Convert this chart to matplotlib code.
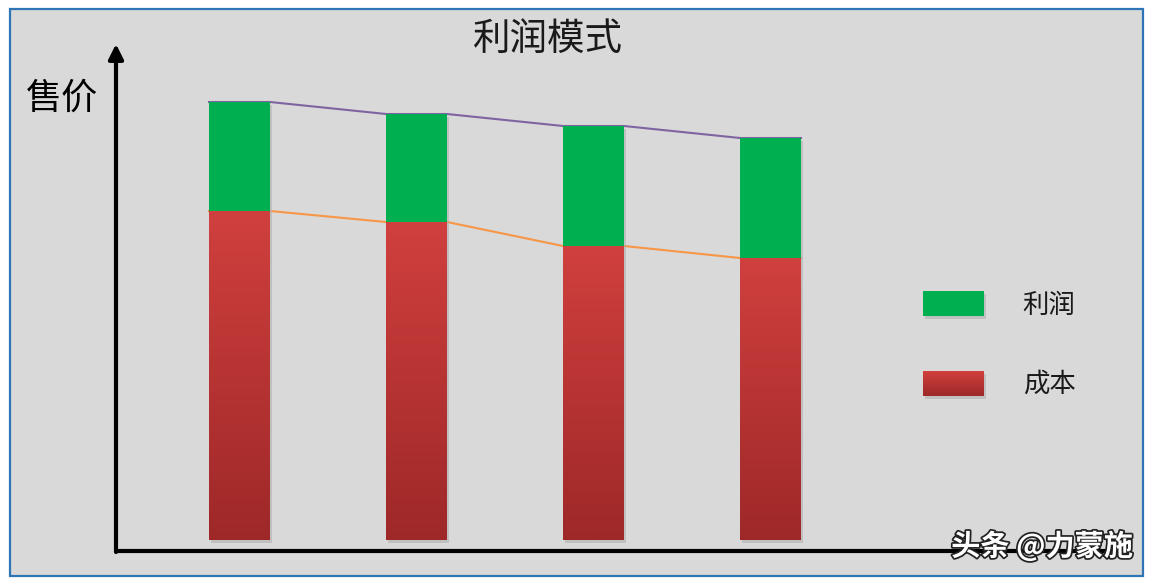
import numpy as np
import matplotlib.pyplot as plt
from matplotlib.patches import Rectangle, FancyArrowPatch
import matplotlib.patheffects as pe

plt.rcParams['font.family'] = ['Noto Sans CJK SC', 'DejaVu Sans']

# data (arbitrary units, baseline = 0)
periods = [0, 1, 2, 3]
cost = [329, 318, 294, 282]
profit = [109, 108, 120, 120]
title = '利润模式'
ylabel = '售价'
legend_labels = ['利润', '成本']
watermark = '头条 @力蒙施'

green = '#00b050'
red_top = np.array([208, 64, 62]) / 255
red_bot = np.array([158, 40, 40]) / 255
purple = '#8064a2'
orange = '#f79646'

W, H = 1151, 581
fig = plt.figure(figsize=(W / 100, H / 100), dpi=100)
fig.patch.set_facecolor('white')

# background panel with blue border
bg = fig.add_axes([0, 0, 1, 1])
bg.set_xlim(0, W)
bg.set_ylim(H, 0)
bg.axis('off')
bg.add_patch(Rectangle((10, 9), 1133, 567, facecolor='#d9d9d9',
                       edgecolor='#2e75b6', linewidth=1.6))

# data axes: bar centre spacing 177 px, bar centre of first at 239.5 px
ax = fig.add_axes([0, 0, 1, 1])
ax.patch.set_alpha(0)
ax.axis('off')
x0, dx = 239.5, 177.0
bw = 61 / dx

x = np.array(periods, dtype=float)
total = np.array(cost) + np.array(profit)

# connecting lines (behind bars)
xs = np.ravel(np.column_stack([x - bw / 2, x + bw / 2]))
ax.plot(xs, np.repeat(total, 2), color=purple, lw=1.5, zorder=1)
ax.plot(xs, np.repeat(cost, 2), color=orange, lw=1.5, zorder=1)

# shadows
ax.bar(x + 0.012, total, bottom=-3, width=bw, color='#b0b0b0', alpha=0.6, zorder=1.5)

grad = np.linspace(0, 1, 256)[:, None, None]
grad_img = red_top * (1 - grad) + red_bot * grad

ax.bar(x, profit, bottom=cost, width=bw, color=green, zorder=2)
for xi, c in zip(x, cost):
    ax.imshow(grad_img, extent=(xi - bw / 2, xi + bw / 2, 0, c),
              aspect='auto', origin='upper', zorder=2)
ax.set_xlim(-x0 / dx, (W - x0) / dx)
ax.set_ylim(-(H - 540), 540)

# axes arrows drawn in pixel space
bg.plot([116, 1125], [551, 551], color='black', lw=3, zorder=3,
        solid_capstyle='butt')
bg.add_patch(FancyArrowPatch((116, 552), (116, 44), arrowstyle='-|>',
                             mutation_scale=22, lw=3, color='black',
                             shrinkA=0, shrinkB=0, zorder=3))

# texts
bg.text(548, 39, title, fontsize=27, ha='center', va='center',
        fontweight='light', color='#1a1a1a')
bg.text(62, 99, ylabel, fontsize=26, ha='center', va='center', color='black')

# legend
bg.add_patch(Rectangle((925, 294), 61, 25, facecolor='#b0b0b0', alpha=0.6))
bg.add_patch(Rectangle((923, 291), 61, 25, facecolor=green))
bg.add_patch(Rectangle((925, 374), 61, 25, facecolor='#b0b0b0', alpha=0.6))
bg.imshow(grad_img, extent=(923, 984, 396, 371), aspect='auto',
          origin='upper', zorder=2)
bg.set_xlim(0, W)
bg.set_ylim(H, 0)
bg.text(1049, 305, legend_labels[0], fontsize=19, ha='center', va='center',
        fontweight='light', color='#1a1a1a')
bg.text(1049, 384, legend_labels[1], fontsize=19, ha='center', va='center',
        fontweight='light', color='#1a1a1a')

# watermark
bg.text(1042, 546, watermark, fontsize=21, ha='center', va='center',
        color='white', fontweight='bold', zorder=5,
        path_effects=[pe.withStroke(linewidth=2.5, foreground='#222222')])

fig.savefig('out.png', dpi=100, facecolor=fig.get_facecolor())
